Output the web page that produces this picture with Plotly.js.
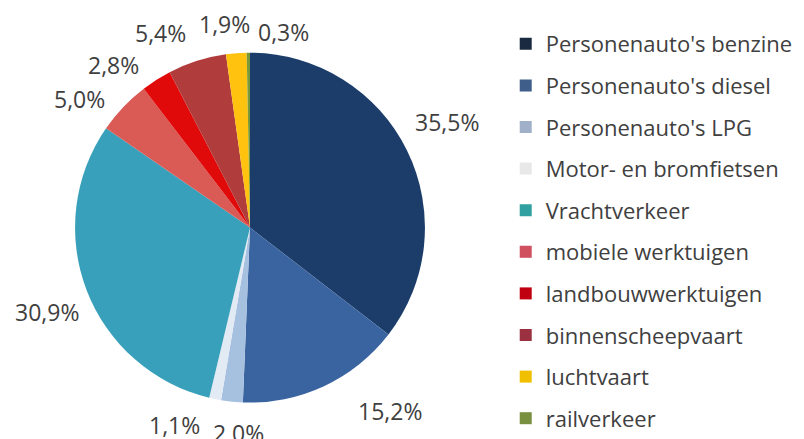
<!DOCTYPE html>
<html>
<head>
<meta charset="utf-8">
<script src="https://cdn.plot.ly/plotly-3.0.1.min.js"></script>
<style>html,body{margin:0;padding:0;background:#fff;}#chart{width:804px;height:439px;}</style>
</head>
<body>
<div id="chart"></div>
<script>
const categories = ["Personenauto's benzine", "Personenauto's diesel", "Personenauto's LPG", "Motor- en bromfietsen", "Vrachtverkeer", "mobiele werktuigen", "landbouwwerktuigen", "binnenscheepvaart", "luchtvaart", "railverkeer"];
const shares = [35.5, 15.2, 2.0, 1.1, 30.9, 5.0, 2.8, 5.4, 1.9, 0.3];
const pieColors = ["#1C3D6A", "#3A64A0", "#A6C0E0", "#E2EAF4", "#38A0BA", "#DA5A55", "#E00A0A", "#B03C3C", "#FFC20E", "#7A9A3A"];
const legendColors = ["#1A2A40", "#3F5F8A", "#A0B0C8", "#E8E8E8", "#30A0A0", "#D05060", "#C00010", "#9A3040", "#F0C000", "#789040"];
// manual label nudges (px) relative to a radial position, as placed in the original
const labelNudgeX = [0, 47, 11, -32, 2, -11, -19, -23, -8, 36];
const labelNudgeY = [-9, -16, -13, -18, 6, 23, 23, 15, 16, 24];

const FONT = "'Open Sans', sans-serif";
const TXT = "#404040";
const W = 804, H = 439;
const dom = {x: [0.0933, 0.5286], y: [0.083, 0.880]};

const traces = [{
  type: 'pie',
  labels: categories,
  values: shares,
  sort: false,
  direction: 'clockwise',
  rotation: 0,
  marker: {colors: pieColors, line: {width: 0}},
  textinfo: 'none',
  showlegend: false,
  hoverinfo: 'label+value',
  domain: dom,
  automargin: false
}];

categories.forEach((c, i) => {
  traces.push({
    type: 'scatter', mode: 'markers',
    x: [null], y: [null],
    name: c,
    legendgroup: 'g' + i,
    marker: {symbol: 'square', size: 12, color: legendColors[i]},
    showlegend: true,
    hoverinfo: 'skip'
  });
});

// percentage labels placed radially at each slice's mid-angle
const total = shares.reduce((a, b) => a + b, 0);
const cx = (dom.x[0] + dom.x[1]) / 2 * W;
const cy = (1 - (dom.y[0] + dom.y[1]) / 2) * H;
const R = Math.min((dom.x[1] - dom.x[0]) * W, (dom.y[1] - dom.y[0]) * H) / 2;
const labelDist = R + 45;
let cum = 0;
const annotations = shares.map((v, i) => {
  const mid = (cum + v / 2) / total;
  cum += v;
  const th = 2 * Math.PI * mid;
  const px = cx + labelDist * Math.sin(th) + labelNudgeX[i];
  const py = cy - labelDist * Math.cos(th) + labelNudgeY[i];
  return {
    xref: 'paper', yref: 'paper',
    x: px / W, y: 1 - py / H,
    xanchor: 'center', yanchor: 'middle',
    text: v.toFixed(1).replace('.', ',') + '%',
    showarrow: false,
    font: {family: FONT, size: 23, color: TXT}
  };
});

const layout = {
  width: W, height: H,
  margin: {l: 0, r: 0, t: 0, b: 0},
  paper_bgcolor: '#ffffff', plot_bgcolor: '#ffffff',
  separators: ',.',
  font: {family: FONT, color: TXT},
  xaxis: {visible: false}, yaxis: {visible: false},
  showlegend: true,
  annotations: annotations,
  legend: {
    x: 0.629, y: 0.929, xanchor: 'left', yanchor: 'top',
    font: {family: FONT, size: 22, color: TXT},
    tracegroupgap: 10,
    itemsizing: 'constant',
    bgcolor: 'rgba(0,0,0,0)'
  }
};

Plotly.newPlot('chart', traces, layout, {displayModeBar: false, staticPlot: true});
</script>
</body>
</html>
